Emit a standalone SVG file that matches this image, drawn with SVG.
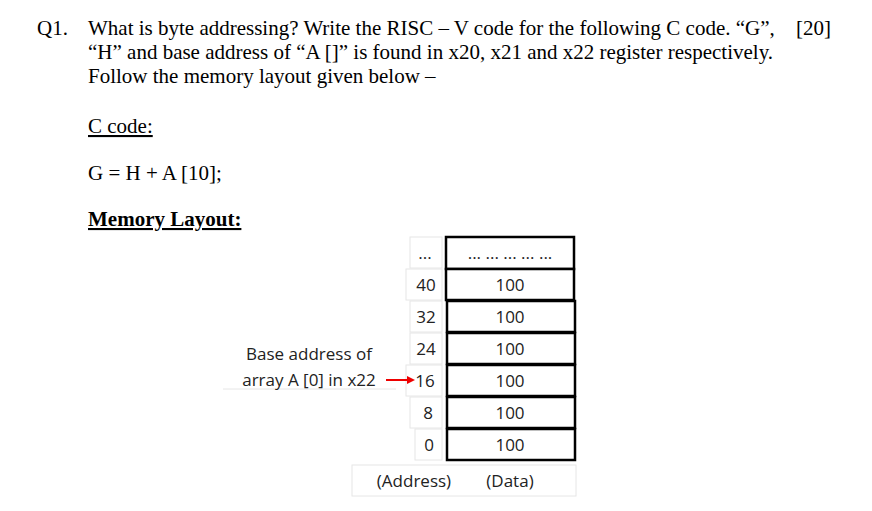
<svg xmlns="http://www.w3.org/2000/svg" width="872" height="511" viewBox="0 0 872 511">
<style>
.q{font-family:"Liberation Serif",serif;font-size:21px;fill:#000}
.s{font-family:"Open Sans","Noto Sans",sans-serif;font-size:17px;fill:#222}
.d{fill:#fff;stroke:#000;stroke-width:2.5}
.a{fill:#fff;stroke:#e6e6e6;stroke-width:1}
</style>
<rect width="872" height="511" fill="#fff"/>
<g id="question">
<text class="q" x="37" y="35">Q1.</text>
<text class="q" x="88" y="35">What is byte addressing? Write the RISC – V code for the following C code. “G”,</text>
<text class="q" x="796" y="35">[20]</text>
<text class="q" x="88" y="59">“H” and base address of “A []” is found in x20, x21 and x22 register respectively.</text>
<text class="q" x="88" y="83">Follow the memory layout given below –</text>
<text class="q" x="88" y="133" text-decoration="underline">C code:</text>
<text class="q" x="88" y="180">G = H + A [10];</text>
<text class="q" x="88" y="226" font-weight="bold" text-decoration="underline">Memory Layout:</text>
</g>
<g id="addresses">
<rect class="a" x="410" y="237" width="32" height="31"/>
<rect class="a" x="406" y="269" width="36" height="31"/>
<rect class="a" x="410" y="301" width="32" height="31"/>
<rect class="a" x="410" y="333" width="32" height="31"/>
<rect class="a" x="406" y="365" width="36" height="31"/>
<rect class="a" x="410" y="397" width="32" height="31"/>
<rect class="a" x="415" y="429" width="27" height="31"/>
<g class="s" text-anchor="middle">
<text x="425" y="259">...</text>
<text x="426" y="291">40</text>
<text x="426" y="323">32</text>
<text x="426" y="355">24</text>
<text x="425" y="387">16</text>
<text x="428" y="419">8</text>
<text x="429" y="451">0</text>
</g>
</g>
<g id="data">
<rect class="d" x="446" y="237" width="128" height="32"/>
<rect class="d" x="446" y="269" width="128" height="31"/>
<rect class="d" x="447" y="301" width="128" height="31"/>
<rect class="d" x="447" y="333" width="128" height="31"/>
<rect class="d" x="447" y="365" width="128" height="31"/>
<rect class="d" x="447" y="397" width="128" height="31"/>
<rect class="d" x="447" y="429" width="128" height="31"/>
<g class="s" text-anchor="middle">
<text x="510" y="259">... ... ... ... ...</text>
<text x="510" y="291">100</text>
<text x="510" y="323">100</text>
<text x="510" y="355">100</text>
<text x="510" y="387">100</text>
<text x="510" y="419">100</text>
<text x="510" y="451">100</text>
</g>
</g>
<g id="legend">
<rect class="a" x="352" y="465" width="224" height="31"/>
<text class="s" x="414" y="487" text-anchor="middle">(Address)</text>
<text class="s" x="510" y="487" text-anchor="middle">(Data)</text>
</g>
<g id="base-label">
<line x1="223" y1="389" x2="396" y2="389" stroke="#e6e6e6"/>
<text class="s" x="309" y="360" text-anchor="middle">Base address of</text>
<text class="s" x="309" y="386" text-anchor="middle">array A [0] in x22</text>
</g>
<g id="connectors">
<line x1="386" y1="380" x2="408" y2="380" stroke="#e00" stroke-width="2"/>
<polygon points="415,380 407,376 407,384" fill="#e00"/>
</g>
</svg>
